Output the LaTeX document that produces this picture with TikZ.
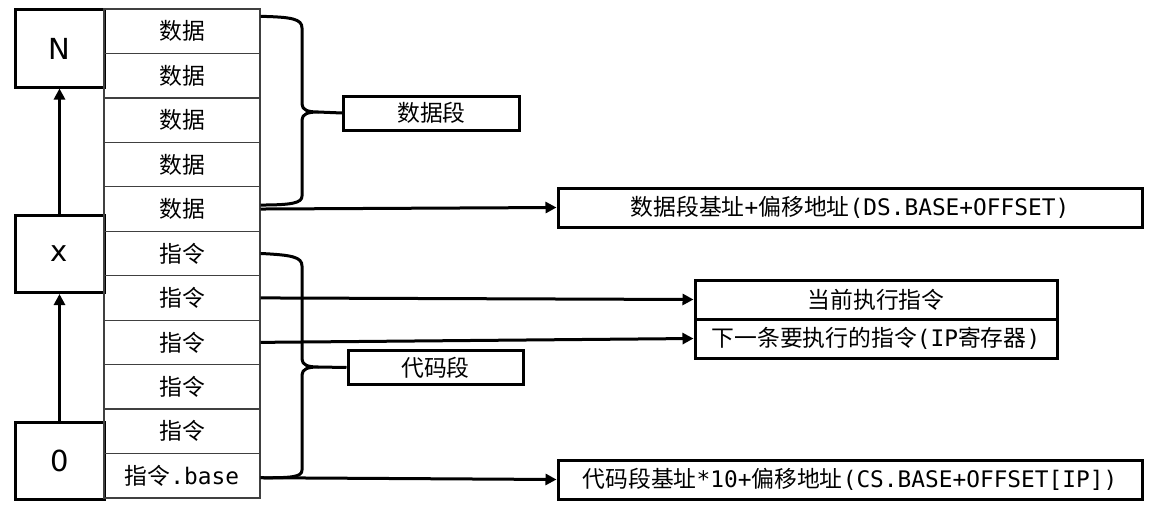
\documentclass[tikz,border=0pt]{standalone}
\usepackage{fontspec}
\setmainfont{DejaVu Sans Mono}
\newfontfamily\cjk{Noto Sans CJK SC}
\newfontfamily\sansf{DejaVu Sans}
\newcommand{\zh}[1]{{\cjk #1}}
\usetikzlibrary{arrows.meta,calc}
\tikzset{
  cell/.style={draw=black!75, line width=1.3pt, minimum width=156pt, minimum height=44.45pt, inner sep=0pt,
    font=\fontsize{22.8}{26}\selectfont},
  bigbox/.style={draw, line width=3pt, minimum width=89pt, minimum height=77pt, inner sep=0pt,
    font=\sansf\fontsize{29}{32}\selectfont},
  lbl/.style={draw, line width=3pt, inner sep=0pt, font=\fontsize{22.8}{26}\selectfont},
  arr/.style={line width=3pt, -{Triangle[length=11pt,width=11pt]}},
  brace/.style={line width=3pt, line join=round},
}
\begin{document}
\begin{tikzpicture}[x=1pt,y=-1pt]
\useasboundingbox (0,0) rectangle (1167,519);
% left boxes
\node[bigbox] (N) at (59.5,48.5) {N};
\node[bigbox] (X) at (59.5,254) {x};
\node[bigbox] (Z) at (59.5,460.5) {0};
\draw[arr] (Z.north) -- (X.south);
\draw[arr] (X.north) -- (N.south);
% memory cells
\foreach \i in {1,...,5} {
  \node[cell] (c\i) at (182,{9+44.45*(\i-0.5)}) {\zh{数据}};
}
\foreach \i in {6,...,10} {
  \node[cell] (c\i) at (182,{9+44.45*(\i-0.5)}) {\zh{指令}};
}
\node[cell] (c11) at (182,{9+44.45*10.5}) {\zh{指令}.base};
% labels
\node[lbl, minimum width=176pt, minimum height=34pt] (DS) at (431.5,113) {\zh{数据段}};
\node[lbl, minimum width=175pt, minimum height=34pt] (CS) at (435.5,367.5) {\zh{代码段}};
\node[lbl, minimum width=584pt, minimum height=39pt] (DSB) at (850,207.5) {\zh{数据段基址}+\zh{偏移地址}(DS.BASE+OFFSET)};
\node[lbl, minimum width=362pt, minimum height=39pt] (CUR) at (876,299.5) {\zh{当前执行指令}};
\node[lbl, minimum width=362pt, minimum height=39pt] (NXT) at (876,338.5) {\zh{下一条要执行的指令}(IP\zh{寄存器})};
\node[lbl, minimum width=584pt, minimum height=39pt] (CSB) at (850,479.5) {\zh{代码段基址}*10+\zh{偏移地址}(CS.BASE+OFFSET[IP])};
% braces
\coordinate (dt) at (318,112);
\draw[brace] ($(c1.north east)+(0,8)$) .. controls (292,17) and (302,19) .. (302,28)
  -- (302,104) .. controls (302,110) and (308,112) .. (dt)
  .. controls (308,112) and (302,114) .. (302,120)
  -- (302,196) .. controls (302,203) and (292,205) .. ($(c5.east)+(0,-4)$);
\draw[brace] (dt) -- (DS.west);
\coordinate (ct) at (318,367);
\draw[brace] (c6.east) .. controls (292,255) and (302,257) .. (302,266)
  -- (302,359) .. controls (302,365) and (308,367) .. (ct)
  .. controls (308,367) and (302,369) .. (302,375)
  -- (302,470) .. controls (302,477) and (292,478) .. ($(c11.east)+(0,2)$);
\draw[brace] (ct) -- (CS.west);
% arrows
\draw[arr] (c5.east) -- (DSB.west);
\draw[arr] (c7.east) -- (CUR.west);
\draw[arr] (c8.east) -- (NXT.west);
\draw[arr] ($(c11.east)+(0,2)$) -- (CSB.west);
\end{tikzpicture}
\end{document}
